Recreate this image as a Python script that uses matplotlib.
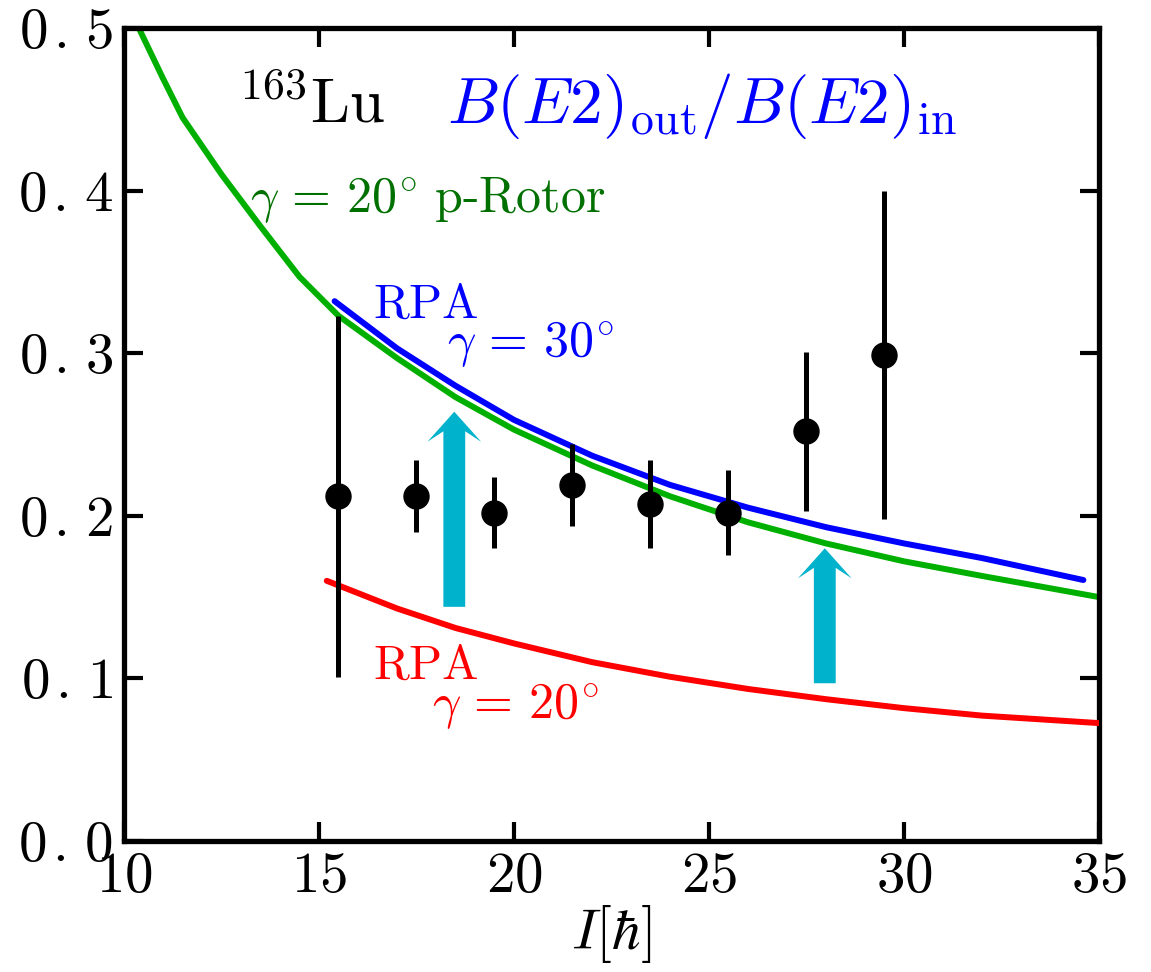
import matplotlib
matplotlib.use("Agg")
import matplotlib.pyplot as plt

plt.rcParams["mathtext.fontset"] = "cm"
plt.rcParams["font.family"] = "serif"
plt.rcParams["font.serif"] = ["cmr10", "DejaVu Serif"]
plt.rcParams["axes.formatter.use_mathtext"] = True

# data points (experiment)
spin = [15.5, 17.5, 19.5, 21.5, 23.5, 25.5, 27.5, 29.5]
ratio = [0.212, 0.212, 0.202, 0.219, 0.207, 0.202, 0.252, 0.299]
ratio_err = [0.111, 0.022, 0.022, 0.025, 0.027, 0.026, 0.049, 0.101]

# p-Rotor gamma=20
rot_I = [10.4, 11.0, 11.5, 12.5, 13.5, 14.5, 15.5, 17, 18.5, 20, 22, 24, 26, 28, 30, 32, 35]
rot_B = [0.499, 0.469, 0.445, 0.410, 0.378, 0.347, 0.323, 0.297, 0.273, 0.253, 0.231,
         0.212, 0.196, 0.183, 0.172, 0.163, 0.150]

# RPA gamma=30
rpa30_I = [15.4, 17, 18.5, 20, 22, 24, 26, 28, 30, 32, 34.6]
rpa30_B = [0.332, 0.303, 0.280, 0.259, 0.237, 0.219, 0.205, 0.193, 0.183, 0.174, 0.1605]

# RPA gamma=20
rpa20_I = [15.2, 17, 18.5, 20, 22, 24, 26, 28, 30, 32, 35]
rpa20_B = [0.160, 0.143, 0.131, 0.1215, 0.110, 0.101, 0.0935, 0.0872, 0.0817, 0.0771, 0.0725]

# arrows: x, start, end
arrows = [(18.47, 0.144, 0.264), (27.97, 0.097, 0.180)]

xticks = [10, 15, 20, 25, 30, 35]
yticks = [0.0, 0.1, 0.2, 0.3, 0.4, 0.5]
ytick_labels = [r"$0\hspace{0.12}.\hspace{0.12}" + s + "$" for s in "012345"]

fs = 41

fig = plt.figure(figsize=(11.51, 9.72), dpi=100)
ax = fig.add_axes([0.1077, 0.1348, 0.8471, 0.8364])

ax.plot(rot_I, rot_B, color="#00b000", lw=4.3, solid_capstyle="round", zorder=2)
ax.plot(rpa30_I, rpa30_B, color="#0000ff", lw=4.3, solid_capstyle="round", zorder=3)
ax.plot(rpa20_I, rpa20_B, color="#ff0000", lw=4.3, solid_capstyle="round", zorder=3)

ax.errorbar(spin, ratio, yerr=ratio_err, fmt="o", color="black", ms=18,
            elinewidth=3.6, capsize=0, zorder=5)

for x, y0, y1 in arrows:
    ax.arrow(x, y0, 0, y1 - y0, width=0.56, head_width=1.38, head_length=0.0185,
             overhang=0.35, length_includes_head=True, color="#00b2cc", lw=0, zorder=4)

ax.text(12.92, 0.4416, r"$^{163}\mathrm{Lu}$", fontsize=45, color="black")
ax.text(18.28, 0.4416, r"$B(E2)_{\rm out}/B(E2)_{\rm in}$", fontsize=47, color="#0000ff")
ax.text(13.23, 0.386, r"$\gamma\,=\,20^{\circ}\ \mathrm{p\text{-}Rotor}$", fontsize=36, color="#007000")
ax.text(16.38, 0.322, r"$\mathrm{RPA}$", fontsize=35, color="#0000ff")
ax.text(18.28, 0.2977, r"$\gamma\,=\,30^{\circ}$", fontsize=36, color="#0000ff")
ax.text(16.38, 0.0996, r"$\mathrm{RPA}$", fontsize=35, color="#ff0000")
ax.text(17.9, 0.075, r"$\gamma\,=\,20^{\circ}$", fontsize=36, color="#ff0000")

ax.set_xlim(10, 35)
ax.set_ylim(0, 0.5)
ax.set_xticks(xticks)
ax.set_xticklabels([f"${t}$" for t in xticks])
ax.set_yticks(yticks)
ax.set_yticklabels(ytick_labels)
ax.tick_params(direction="in", length=14, width=3, labelsize=fs, top=True, right=True, pad=8)
for s in ax.spines.values():
    s.set_linewidth(3.8)
ax.set_xlabel(r"$I[\hbar]$", fontsize=fs, labelpad=0)

fig.savefig("out.png", dpi=100)
